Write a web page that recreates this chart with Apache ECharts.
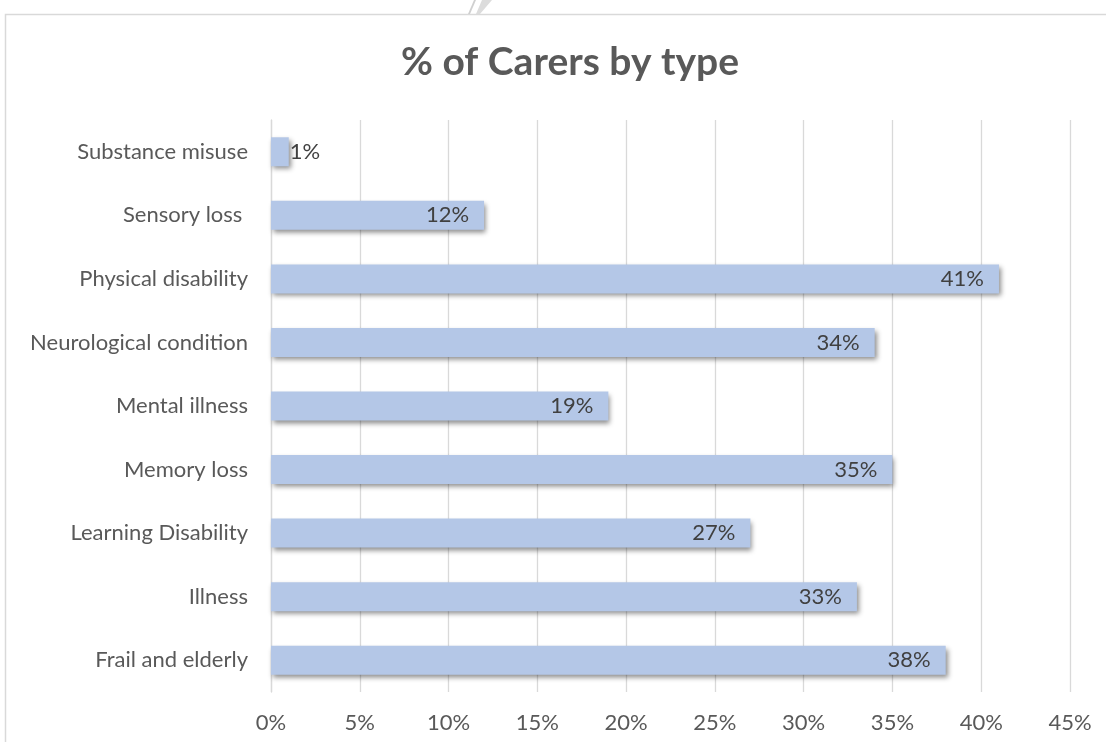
<!DOCTYPE html>
<html>
<head>
<meta charset="utf-8">
<script src="https://cdn.jsdelivr.net/npm/echarts@6/dist/echarts.min.js"></script>
<style>
html,body{margin:0;padding:0;background:#fff;}
#c{width:1106px;height:742px;}
</style>
</head>
<body>
<div id="c"></div>
<script>
const categories = ["Frail and elderly","Illness","Learning Disability","Memory loss","Mental illness","Neurological condition","Physical disability","Sensory loss ","Substance misuse"];
const values = [38,33,27,35,19,34,41,12,1];
const tickMax = 45;
const tickStep = 5;
const titleText = "% of Carers by type";

const FONT = "Lato, 'Open Sans', sans-serif";
const chart = echarts.init(document.getElementById('c'), null, {renderer:'canvas'});
const data = values.map(v => v < 3 ? {value:v, label:{position:'right', distance:1}} : v);
chart.setOption({
  backgroundColor:'#fff',
  animation:false,
  graphic:[
    {type:'rect', shape:{x:5.5,y:14.5,width:1200,height:800}, style:{fill:'none', stroke:'#d9d9d9', lineWidth:1.5}, silent:true, z:-10},
    {type:'polygon', shape:{points:[[468,14],[474,0],[476,0],[470,14]]}, style:{fill:'#d0d0d0'}, silent:true, z:-10},
    {type:'polygon', shape:{points:[[476,14],[482,0],[492,0],[480,14]]}, style:{fill:'#dcdcdc'}, silent:true, z:-10}
  ],
  title:{
    text:titleText, left:396, top:38,
    textStyle:{fontFamily:FONT, fontSize:39, fontWeight:'bold', color:'#595959'}
  },
  grid:{left:271, right:36, top:120, bottom:50, containLabel:false},
  xAxis:{
    type:'value', min:0, max:tickMax, interval:tickStep,
    axisLine:{show:false}, axisTick:{show:false},
    splitLine:{show:true, lineStyle:{color:'#d9d9d9', width:1.3}},
    axisLabel:{formatter:'{value}%', fontFamily:FONT, fontSize:22, color:'#595959', margin:20}
  },
  yAxis:{
    type:'category', data:categories,
    axisLine:{show:true, lineStyle:{color:'#d9d9d9', width:1.3}},
    axisTick:{show:false},
    axisLabel:{fontFamily:FONT, fontSize:22, color:'#595959', margin:23}
  },
  series:[{
    type:'bar', data:data, barWidth:29,
    itemStyle:{color:'#b4c7e7', shadowColor:'rgba(0,0,0,0.45)', shadowBlur:5, shadowOffsetX:2, shadowOffsetY:3},
    label:{show:true, position:'insideRight', distance:15, formatter:'{c}%', fontFamily:FONT, fontSize:22, color:'#404040'}
  }]
});
</script>
</body>
</html>
